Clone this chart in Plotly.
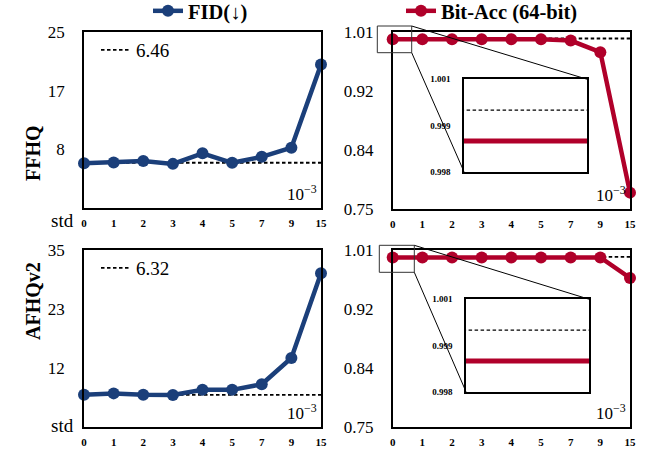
import numpy as np
import plotly.graph_objects as go

W, H = 645, 450

# ---------------- data ----------------
std_labels = ["0", "1", "2", "3", "4", "5", "7", "9", "15"]
fid_ffhq = [6.40, 6.50, 6.70, 6.30, 7.80, 6.45, 7.30, 8.60, 20.4]
fid_afhq = [6.32, 6.60, 6.35, 6.30, 7.30, 7.30, 8.40, 13.6, 30.4]
acc_ffhq = [0.999, 0.999, 0.999, 0.999, 0.999, 0.999, 0.997, 0.980, 0.774]
acc_afhq = [0.999, 0.999, 0.999, 0.999, 0.999, 0.999, 0.999, 0.999, 0.969]
fid_base_ffhq = 6.46
fid_base_afhq = 6.32
acc_base = 1.0
fid_ymax_ffhq = 25
fid_ymax_afhq = 35
acc_ylim = [0.75, 1.01]
inset_ylim = [0.998, 1.001]
inset_ticktext = ["0.998", "0.999", "1.001"]
rows = ["FFHQ", "AFHQv2"]

BLUE = "#1B3F7A"
RED = "#B0002A"
SERIF = "Liberation Serif, Times New Roman, Times, serif"
DASH = "3.5px,2.5px"


def px(p):
    return p / W


def py(p):
    return 1 - p / H


fig = go.Figure()

# domains in pixels (x0, x1, ytop, ybottom)
doms = {
    "": (84, 321, 32, 208.3),
    "2": (392.7, 630, 31.7, 209),
    "3": (84, 321, 250, 426.7),
    "4": (392.7, 630, 250, 427.3),
    "5": (464, 587.3, 79.3, 171.7),
    "6": (466, 589.3, 299.3, 391.7),
}

n = len(std_labels)
base_x = [std_labels[0], std_labels[-1]]

# FID panels
for ax, vals, base, leg, show in [("", fid_ffhq, fid_base_ffhq, "legend2", True),
                                  ("3", fid_afhq, fid_base_afhq, "legend3", False)]:
    fig.add_trace(go.Scatter(x=base_x, y=[base, base], mode="lines",
                             line=dict(color="black", width=1.8, dash=DASH),
                             name=f"{base:.2f}", legend=leg, showlegend=True,
                             xaxis="x" + ax, yaxis="y" + ax))
    fig.add_trace(go.Scatter(x=std_labels, y=vals, mode="lines+markers",
                             line=dict(color=BLUE, width=4.5),
                             marker=dict(color=BLUE, size=12),
                             name="FID(↓)", showlegend=show, legend="legend", cliponaxis=False,
                             xaxis="x" + ax, yaxis="y" + ax))

# Bit-acc panels
for ax, ins, vals, show in [("2", "5", acc_ffhq, True), ("4", "6", acc_afhq, False)]:
    fig.add_trace(go.Scatter(x=base_x, y=[acc_base, acc_base], mode="lines",
                             line=dict(color="black", width=1.8, dash=DASH),
                             showlegend=False, xaxis="x" + ax, yaxis="y" + ax))
    fig.add_trace(go.Scatter(x=std_labels, y=vals, mode="lines+markers",
                             line=dict(color=RED, width=4.5),
                             marker=dict(color=RED, size=12),
                             name="Bit-Acc (64-bit)", showlegend=show, cliponaxis=False,
                             xaxis="x" + ax, yaxis="y" + ax))
    # inset
    fig.add_trace(go.Scatter(x=base_x, y=[acc_base, acc_base], mode="lines",
                             line=dict(color="black", width=1.4, dash=DASH),
                             showlegend=False, xaxis="x" + ins, yaxis="y" + ins))
    fig.add_trace(go.Scatter(x=std_labels, y=vals, mode="lines",
                             line=dict(color=RED, width=5),
                             showlegend=False, xaxis="x" + ins, yaxis="y" + ins))

frame = dict(showline=True, mirror=True, linecolor="black", linewidth=1.5,
             showgrid=False, zeroline=False, automargin=False)

layout = dict(template="none", width=W, height=H, margin=dict(l=0, r=0, t=0, b=0, autoexpand=False),
              plot_bgcolor="white", paper_bgcolor="white",
              font=dict(family=SERIF, color="black"))

for ax in ["", "2", "3", "4"]:
    x0, x1, yt, yb = doms[ax]
    xa = dict(frame, domain=[px(x0), px(x1)], type="category", range=[0, n - 1],
              categoryorder="array", categoryarray=std_labels,
              anchor="y" + ax, ticks="", ticklabelstandoff=4,
              tickfont=dict(family=SERIF, size=11, weight="bold"))
    if ax in ("", "3"):
        ymax = fid_ymax_ffhq if ax == "" else fid_ymax_afhq
        tv = list(np.linspace(0, ymax, 4)[1:])
        ya = dict(frame, domain=[py(yb), py(yt)], range=[0, ymax], tickvals=tv,
                  ticktext=[f"{v:.0f}" for v in tv])
    else:
        tv = list(np.linspace(acc_ylim[0], acc_ylim[1], 4))
        ya = dict(frame, domain=[py(yb), py(yt)], range=acc_ylim, tickvals=tv,
                  ticktext=[f"{v:.2f}" for v in tv])
    ya.update(anchor="x" + ax, ticks="", ticklabelstandoff=14,
              tickfont=dict(family=SERIF, size=17))
    layout["xaxis" + ax] = xa
    layout["yaxis" + ax] = ya

for ins in ["5", "6"]:
    x0, x1, yt, yb = doms[ins]
    layout["xaxis" + ins] = dict(frame, domain=[px(x0), px(x1)], type="category",
                                 range=[0.1, 0.9], showticklabels=False, ticks="",
                                 anchor="y" + ins, categoryorder="array",
                                 categoryarray=std_labels)
    layout["yaxis" + ins] = dict(frame, domain=[py(yb), py(yt)], range=inset_ylim,
                                 tickvals=[inset_ylim[0], sum(inset_ylim) / 2, inset_ylim[1]],
                                 ticktext=inset_ticktext, ticks="", ticklabelstandoff=10,
                                 tickfont=dict(family=SERIF, size=9, weight="bold"),
                                 anchor="x" + ins)

layout["legend"] = dict(orientation="h", x=px(148), y=1 + 9 / H, xanchor="left", yanchor="top",
                        entrywidth=208, entrywidthmode="pixels",
                        font=dict(family=SERIF, size=20.5, weight="bold"),
                        bgcolor="rgba(0,0,0,0)", tracegroupgap=0)
layout["legend2"] = dict(x=px(96), y=py(31), xanchor="left", yanchor="top",
                         font=dict(family=SERIF, size=19), bgcolor="rgba(0,0,0,0)")
layout["legend3"] = dict(x=px(96), y=py(249), xanchor="left", yanchor="top",
                         font=dict(family=SERIF, size=19), bgcolor="rgba(0,0,0,0)")

fig.update_layout(**layout)

# zoom rectangles and connectors (pixel positions)
zooms = [  # rect (x0, y0, x1, y1), inset domain
    ((377.3, 26, 411.7, 52.7), doms["5"]),
    ((379.3, 245.3, 414.3, 272.3), doms["6"]),
]
for (rx0, ry0, rx1, ry1), (ix0, ix1, iyt, iyb) in zooms:
    fig.add_shape(type="rect", xref="paper", yref="paper", x0=px(rx0), x1=px(rx1),
                  y0=py(ry1), y1=py(ry0), line=dict(color="#333333", width=1))
    fig.add_shape(type="line", xref="paper", yref="paper", x0=px(rx1), y0=py(ry0),
                  x1=px(ix1), y1=py(iyt), line=dict(color="black", width=1))
    fig.add_shape(type="line", xref="paper", yref="paper", x0=px(rx1), y0=py(ry1),
                  x1=px(ix0), y1=py(iyb), line=dict(color="black", width=1))

# 10^-3 annotations
for ax in ["x", "x2", "x3", "x4"]:
    yref = ax.replace("x", "y") + " domain"
    fig.add_annotation(xref=ax + " domain", yref=yref, x=1, y=0, xanchor="right",
                       yanchor="bottom", xshift=-2, yshift=2, showarrow=False,
                       text="10<sup>−3</sup>", font=dict(family=SERIF, size=17))

# std labels
for yy in [220, 438]:
    fig.add_annotation(xref="paper", yref="paper", x=px(76), y=py(yy), xanchor="right",
                       showarrow=False, text="std", font=dict(family=SERIF, size=19))

# row labels
for name, yy in zip(rows, [123, 342]):
    fig.add_annotation(xref="paper", yref="paper", x=px(20), y=py(yy), showarrow=False,
                       text=name, textangle=-90,
                       font=dict(family=SERIF, size=20, weight="bold"))

fig.write_html("out.html", config={"displayModeBar": False},
               post_script="document.body.style.margin='0';")
